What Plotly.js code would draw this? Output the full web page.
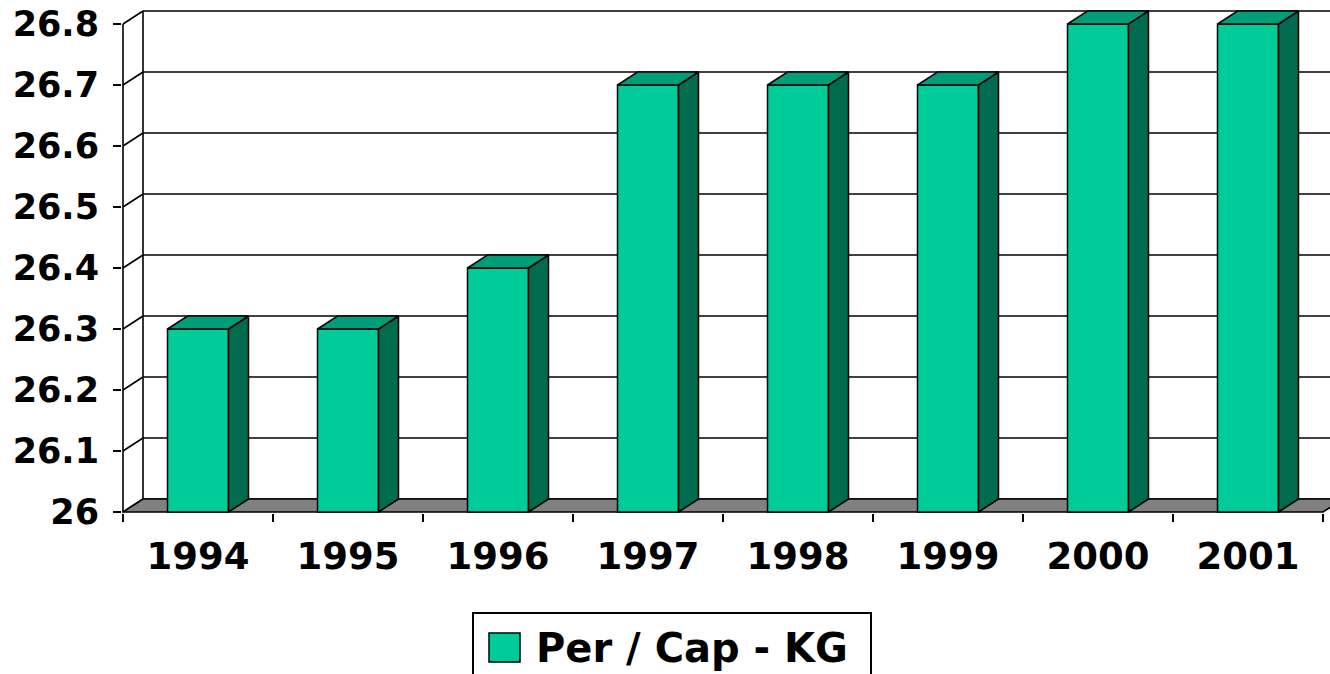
<!DOCTYPE html>
<html>
<head>
<meta charset="utf-8">
<script src="https://cdn.plot.ly/plotly-3.0.1.min.js"></script>
<style>html,body{margin:0;padding:0;background:#fff;}#chart{width:1330px;height:674px;}</style>
</head>
<body>
<div id="chart"></div>
<script>
// ---- data ----
const years = ['1994', '1995', '1996', '1997', '1998', '1999', '2000', '2001'];
const values = [26.3, 26.3, 26.4, 26.7, 26.7, 26.7, 26.8, 26.8];
const yTickVals = [26, 26.1, 26.2, 26.3, 26.4, 26.5, 26.6, 26.7, 26.8];
const yTickText = ['26', '26.1', '26.2', '26.3', '26.4', '26.5', '26.6', '26.7', '26.8'];
const seriesName = 'Per / Cap - KG';

// ---- styling / geometry ----
const W = 1330, H = 674;
const L = 122, R = 1330, T = 8, B = 513;
const PXU = 150;            // pixels per category
const PYU = 610;            // pixels per y unit
const yBase = yTickVals[0];
const yTop = yTickVals[yTickVals.length - 1];
const DX = 20 / PXU, DY = 13 / PYU;
const HW = 0.2033;
const front = '#00CC99', topC = '#009E78', sideC = '#006B4F', floorC = '#808080';
const FONT = 'DejaVu Sans';

const xs = years.map((_, i) => i);
const n = years.length;
const xr = [-0.5 - (123 - L) / PXU, -0.5 + (R - 123) / PXU];
const yr = [yBase - (B - 512) / PYU, yBase + (512 - T) / PYU];

// side and top faces built from values
const sx = [], sy = [], tx = [], ty = [];
values.forEach((v, i) => {
  const c = xs[i];
  sx.push(c + HW, c + HW, c + HW + DX, c + HW + DX, c + HW, null);
  sy.push(yBase, v, v + DY, yBase + DY, yBase, null);
  tx.push(c - HW, c + HW, c + HW + DX, c - HW + DX, c - HW, null);
  ty.push(v, v, v + DY, v + DY, v, null);
});

const traces = [
  {type: 'scatter', mode: 'lines', x: sx, y: sy, fill: 'toself', fillcolor: sideC,
   line: {color: '#000', width: 1.5}, hoverinfo: 'skip', showlegend: false},
  {type: 'scatter', mode: 'lines', x: tx, y: ty, fill: 'toself', fillcolor: topC,
   line: {color: '#000', width: 1.5}, hoverinfo: 'skip', showlegend: false},
  {type: 'bar', name: seriesName, x: xs, y: values.map(v => v - yBase), base: yBase,
   width: 2 * HW, marker: {color: front, line: {color: '#000', width: 1.5}},
   customdata: values, hovertemplate: '%{customdata}<extra></extra>', showlegend: false}
];

const shapes = [];
const ln = {color: '#000', width: 1.6};
// back wall grid lines + left wall diagonals
yTickVals.forEach(v => {
  shapes.push({type: 'line', xref: 'x', yref: 'y', layer: 'below',
    x0: -0.5 + DX, y0: v + DY, x1: xr[1] + 1, y1: v + DY, line: ln});
  shapes.push({type: 'line', xref: 'x', yref: 'y', layer: 'below',
    x0: -0.5, y0: v, x1: -0.5 + DX, y1: v + DY, line: ln});
});
// left wall edges
shapes.push({type: 'line', xref: 'x', yref: 'y', layer: 'below',
  x0: -0.5 + DX, y0: yBase + DY, x1: -0.5 + DX, y1: yTop + DY, line: ln});
shapes.push({type: 'line', xref: 'x', yref: 'y', layer: 'below',
  x0: -0.5, y0: yBase, x1: -0.5, y1: yTop, line: ln});
// floor
const xe = n - 0.5;
shapes.push({type: 'path', xref: 'x', yref: 'y', layer: 'below',
  path: `M ${-0.5},${yBase} L ${xe},${yBase} L ${xe + DX},${yBase + DY} L ${-0.5 + DX},${yBase + DY} Z`,
  fillcolor: floorC, line: ln});

// manual legend (paper coords)
const pw = R - L, ph = B - T;
const px = p => (p - L) / pw;
const py = p => (B - p) / ph;
shapes.push({type: 'rect', xref: 'paper', yref: 'paper', x0: px(473), x1: px(871), y0: py(613), y1: py(690),
  line: {color: '#000', width: 2}, fillcolor: '#fff'});
shapes.push({type: 'rect', xref: 'paper', yref: 'paper', x0: px(489), x1: px(520), y0: py(633), y1: py(662),
  line: {color: '#000', width: 1.5}, fillcolor: front});

const annotations = [{xref: 'paper', yref: 'paper', x: px(534), y: py(648), xanchor: 'left', yanchor: 'middle',
  text: seriesName, showarrow: false, font: {family: FONT, size: 40, color: '#000', weight: 'bold'}}];

const bounds = xs.map(i => i - 0.5).concat([n - 0.5]);

const layout = {
  width: W, height: H,
  margin: {l: L, r: W - R, t: T, b: H - B, pad: 0},
  paper_bgcolor: '#fff', plot_bgcolor: '#fff',
  showlegend: false,
  bargap: 0,
  xaxis: {range: xr, tickmode: 'array', tickvals: xs, ticktext: years,
    ticks: 'outside', ticklen: 8, tickcolor: 'rgba(0,0,0,0)', ticklabelstandoff: 3,
    minor: {tickmode: 'array', tickvals: bounds, ticks: 'outside', ticklen: 8, tickwidth: 1.5, tickcolor: '#000', showgrid: false},
    showgrid: false, zeroline: false, showline: false, fixedrange: true,
    tickfont: {family: FONT, size: 37, color: '#000', weight: 'bold'}},
  yaxis: {range: yr, tickmode: 'array', tickvals: yTickVals, ticktext: yTickText,
    ticks: 'outside', ticklen: 8, tickwidth: 1.5, tickcolor: '#000', ticklabelstandoff: 7,
    showgrid: false, zeroline: false, showline: false, fixedrange: true,
    tickfont: {family: FONT, size: 35, color: '#000', weight: 'bold'}},
  shapes: shapes,
  annotations: annotations
};

Plotly.newPlot('chart', traces, layout, {displayModeBar: false, staticPlot: true});
</script>
</body>
</html>
